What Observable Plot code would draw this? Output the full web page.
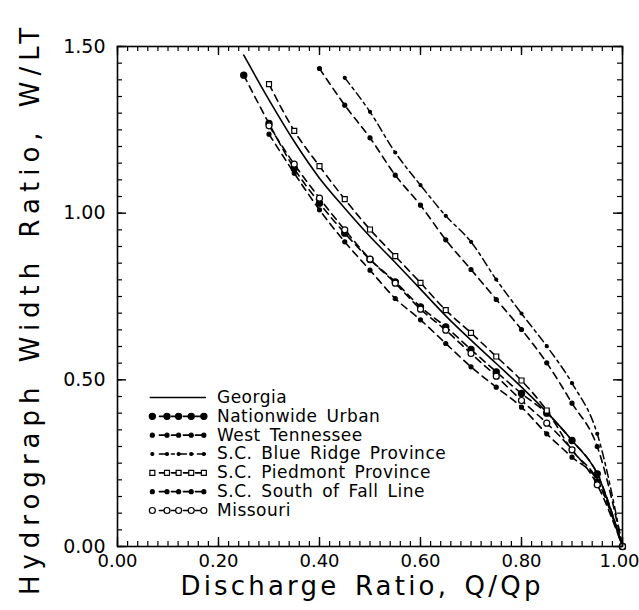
<!DOCTYPE html>
<html><head><meta charset="utf-8">
<script src="https://cdn.jsdelivr.net/npm/d3@7"></script>
<script src="https://cdn.jsdelivr.net/npm/@observablehq/plot@0.6"></script>
<style>body{margin:0;background:#fff}</style>
</head><body><div id="chart"></div>
<script>
// Discharge ratio Q/Qp (x) and hydrograph width ratio W/LT (y) per series
const dischargeRatio = [0.25,0.30,0.35,0.40,0.45,0.50,0.55,0.60,0.65,0.70,0.75,0.80,0.85,0.90,0.95,1.00];
const georgia         = [1.474,1.34,1.215,1.105,1.015,0.93,0.852,0.772,0.692,0.619,0.549,0.478,0.403,0.318,0.218,0];
const nationwideUrban = [1.414,1.269,1.134,1.03,0.94,0.861,0.794,0.719,0.659,0.591,0.524,0.459,0.40,0.318,0.218,0];
const westTennessee   = [null,null,null,1.434,1.324,1.226,1.114,1.024,0.92,0.831,0.741,0.651,0.551,0.430,0.300,0];
const scBlueRidge     = [null,null,null,null,1.406,1.304,1.182,1.084,0.992,0.914,0.801,0.699,0.601,0.490,0.338,0];
const scPiedmont      = [null,1.387,1.247,1.141,1.042,0.951,0.871,0.791,0.709,0.641,0.570,0.498,0.408,0.289,0.20,0];
const scSouthFallLine = [null,1.237,1.12,1.01,0.914,0.829,0.744,0.68,0.609,0.539,0.478,0.418,0.338,0.268,0.198,0];
const missouri        = [null,1.262,1.147,1.045,0.95,0.862,0.79,0.712,0.649,0.579,0.511,0.438,0.370,0.29,0.185,0];

const seriesNames = ["Georgia","Nationwide Urban","West Tennessee","S.C. Blue Ridge Province","S.C. Piedmont Province","S.C. South of Fall Line","Missouri"];
const seriesValues = [georgia, nationwideUrban, westTennessee, scBlueRidge, scPiedmont, scSouthFallLine, missouri];

const xTickLabels = [0,0.2,0.4,0.6,0.8,1.0];
const yTickLabels = [0,0.5,1.0,1.5];
const xMinorTicks = d3.range(0,51).map(i => i*0.02);
const yMinorTicks = d3.range(0,31).map(i => i*0.05);

const xTitle = "Discharge Ratio, Q/Qp";
const yTitle = "Hydrograph Width Ratio, W/LT";

// styles
const styles = [
  {dash: null,   symbol: null,     fill: "black", r: 0,   sw: 1.6},
  {dash: "7,5",  symbol: "circle", fill: "black", r: 3.1, sw: 1.6},
  {dash: "7,5",  symbol: "circle", fill: "black", r: 2.0, sw: 1.6},
  {dash: "8,4,3,4", symbol: "circle", fill: "black", r: 1.5, sw: 1.5},
  {dash: "7,5",  symbol: "square", fill: "white", r: 2.8, sw: 1.6},
  {dash: "7,5",  symbol: "circle", fill: "black", r: 2.0, sw: 1.6},
  {dash: "7,5",  symbol: "circle", fill: "white", r: 3.0, sw: 1.6}
];

const W = 639, H = 610, ML = 117, MR = 17, MT = 46, MB = 64;
const FW = W - ML - MR, FH = H - MT - MB;
const FONT = "DejaVu Sans";

const marks = [];

// series
seriesValues.forEach((vals, i) => {
  const rows = dischargeRatio.map((q, j) => ({series: seriesNames[i], q, w: vals[j]})).filter(d => d.w != null);
  const st = styles[i];
  marks.push(Plot.line(rows, {x: "q", y: "w", curve: "monotone-x", stroke: "black", strokeWidth: st.sw, strokeDasharray: st.dash || undefined}));
  if (st.symbol) marks.push(Plot.dot(rows, {x: "q", y: "w", symbol: st.symbol, r: st.r, fill: st.fill, stroke: "black", strokeWidth: 1.2}));
});

// legend (layout in data units inside the frame)
const LEG = {xLine0: 0.065, xLine1: 0.174, xDash0: 0.083, xText: 0.197, yTop: 0.447, step: 0.0565, markerX: [0.069, 0.098, 0.121, 0.146, 0.171]};
seriesNames.forEach((name, i) => {
  const y = LEG.yTop - i * LEG.step;
  const st = styles[i];
  const seg = st.dash ? [{x: LEG.xDash0, y}, {x: LEG.xLine1, y}] : [{x: LEG.xLine0, y}, {x: LEG.xLine1, y}];
  marks.push(Plot.line(seg, {x: "x", y: "y", stroke: "black", strokeWidth: st.sw, strokeDasharray: st.dash || undefined}));
  if (st.symbol) marks.push(Plot.dot(LEG.markerX.map(x => ({x, y})), {x: "x", y: "y", symbol: st.symbol, r: st.r, fill: st.fill, stroke: "black", strokeWidth: 1.2}));
  marks.push(Plot.text([name], {x: () => LEG.xText, y: () => y, text: d => d, textAnchor: "start", fontSize: 17, fill: "black"}));
});

// inward ticks on all four sides
const xMajor = xMinorTicks.filter((d, i) => i % 10 === 0);
const yMajor = yMinorTicks.filter((d, i) => i % 10 === 0);
const xLabelsInner = xTickLabels.slice(0, -1);
const xLabelsLast = xTickLabels.slice(-1);
marks.push(
  Plot.ruleX(xMinorTicks, {insetTop: FH - 5, stroke: "black", strokeWidth: 1.2}),
  Plot.ruleX(xMajor, {insetTop: FH - 9, stroke: "black", strokeWidth: 1.4}),
  Plot.ruleX(xMinorTicks, {insetBottom: FH - 5, stroke: "black", strokeWidth: 1.2}),
  Plot.ruleX(xMajor, {insetBottom: FH - 9, stroke: "black", strokeWidth: 1.4}),
  Plot.ruleY(yMinorTicks, {insetRight: FW - 5, stroke: "black", strokeWidth: 1.2}),
  Plot.ruleY(yMajor, {insetRight: FW - 9, stroke: "black", strokeWidth: 1.4}),
  Plot.ruleY(yMinorTicks, {insetLeft: FW - 5, stroke: "black", strokeWidth: 1.2}),
  Plot.ruleY(yMajor, {insetLeft: FW - 9, stroke: "black", strokeWidth: 1.4}),
  Plot.frame({stroke: "black", strokeWidth: 1.6}),
  Plot.axisX(xLabelsInner, {anchor: "bottom", tickSize: 0, tickPadding: 8, tickFormat: d3.format(".2f"), fontSize: 18, label: null}),
  Plot.axisX(xLabelsLast, {anchor: "bottom", tickSize: 0, tickPadding: 8, tickFormat: d3.format(".2f"), fontSize: 18, label: null, dx: -3}),
  Plot.axisY(yTickLabels, {anchor: "left", tickSize: 0, tickPadding: 12, tickFormat: d3.format(".2f"), fontSize: 19, label: null}),
  Plot.text([xTitle], {frameAnchor: "bottom", text: d => d, textAnchor: "middle", dy: 40, dx: -8, fontSize: 26, lineAnchor: "middle", fill: "black"}),
  Plot.text([yTitle], {frameAnchor: "left", text: d => d, textAnchor: "middle", rotate: -90, dx: -87, dy: 12, fontSize: 26, lineAnchor: "middle", fill: "black"})
);

const chart = Plot.plot({
  width: W, height: H,
  marginLeft: ML, marginRight: MR, marginTop: MT, marginBottom: MB,
  x: {domain: [0, 1], axis: null},
  y: {domain: [0, 1.5], axis: null},
  style: {fontFamily: FONT, background: "white", color: "black", overflow: "visible"},
  marks
});
document.getElementById("chart").appendChild(chart);

// letter spacing to mimic the wide plotter lettering (matched by text content)
const spacing = new Map([[xTitle, [3.2, 4]], [yTitle, [6.0, 5]]]);
seriesNames.forEach(n => spacing.set(n, [0.5, 3]));
chart.querySelectorAll("text").forEach(t => {
  const s = spacing.get(t.textContent);
  if (s) { t.setAttribute("letter-spacing", s[0]); t.setAttribute("word-spacing", s[1]); }
});
</script>
</body></html>
